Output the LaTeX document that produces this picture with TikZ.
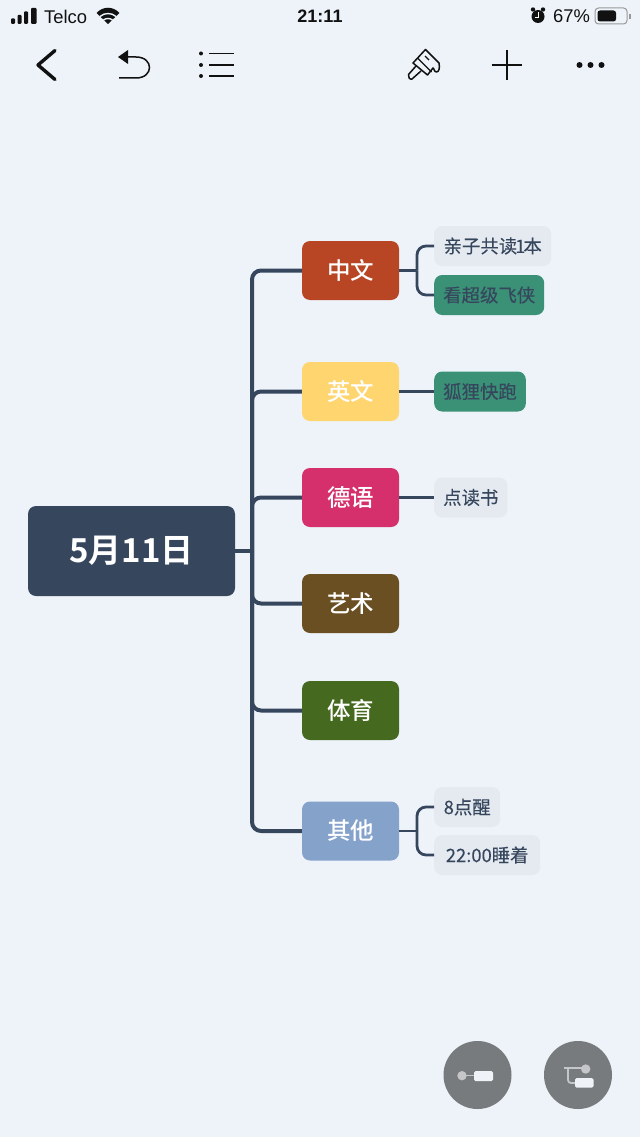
\documentclass[tikz,border=0pt]{standalone}
\usepackage{fontspec}
\setmainfont{Liberation Sans}
\newfontfamily\cjkm{Noto Sans CJK SC}[FakeBold=0.12]
\newfontfamily\cjkb{Noto Sans CJK SC Medium}
\newfontfamily\cjkr{Noto Sans CJK SC Bold}
\definecolor{bg}{HTML}{EDF3F9}
\definecolor{ink}{HTML}{36465D}
\definecolor{cRed}{HTML}{B84523}
\definecolor{cYel}{HTML}{FFD56F}
\definecolor{cPink}{HTML}{D5306C}
\definecolor{cBrown}{HTML}{6A4F22}
\definecolor{cGreen}{HTML}{44691F}
\definecolor{cBlue}{HTML}{85A2CB}
\definecolor{cGrey}{HTML}{E5EAF1}
\definecolor{cTeal}{HTML}{3A9176}
\definecolor{btn}{HTML}{777B7E}
\definecolor{bar}{HTML}{111111}
\definecolor{soft}{HTML}{C4C6C8}
\definecolor{chip}{HTML}{EFF3F8}
\tikzset{
  rootbox/.style={fill=ink,rounded corners=8pt,minimum width=207pt,minimum height=90pt,inner sep=0pt,text=white,font=\cjkr\fontsize{33}{33}\selectfont},
  mainbox/.style={fill=#1,rounded corners=8pt,minimum width=97pt,minimum height=59pt,inner sep=0pt,text=white,font=\cjkb\fontsize{23.5}{24}\selectfont},
  leafbox/.style={fill=#1,rounded corners=8pt,minimum height=40pt,inner sep=0pt,inner xsep=9pt,text=ink,anchor=west,align=left,font=\cjkm\fontsize{18.4}{18.4}\selectfont},
  trunk/.style={draw=ink,line width=4pt,rounded corners=9pt},
  twig/.style={draw=ink,line width=2.8pt,rounded corners=9pt},
  icon/.style={draw=bar,line width=1.5pt},
  statustext/.style={inner sep=0pt,text=bar,font=\fontsize{18.4}{18.4}\selectfont},
}
\begin{document}
\begin{tikzpicture}[x=1pt,y=-1pt]
\path[use as bounding box,fill=bg] (0,0) rectangle (640,1137);

% connectors' junctions
\coordinate (j) at (252,551);
\coordinate (j1) at (417,270.5);
\coordinate (j6) at (417,831);

% nodes
\node[rootbox] (root) at (131.5,551) {\raisebox{-1pt}{5月11日}};
\node[mainbox=cRed] (a) at (350.5,270.5) {中文};
\node[mainbox=cYel] (b) at (350.5,391.5) {英文};
\node[mainbox=cPink] (c) at (350.5,497.5) {德语};
\node[mainbox=cBrown] (d) at (350.5,603.5) {艺术};
\node[mainbox=cGreen] (e) at (350.5,710.5) {体育};
\node[mainbox=cBlue] (f) at (350.5,831) {其他};
\node[leafbox=cGrey,minimum width=117pt] (a1) at (434,246) {亲子共读\kern-2pt 1\kern-2pt 本};
\node[leafbox=cTeal,minimum width=110pt] (a2) at (434,295) {看超级飞侠};
\node[leafbox=cTeal,minimum width=91pt] (b1) at (434,391.5) {狐狸快跑};
\node[leafbox=cGrey,minimum width=73pt] (c1) at (434,497.5) {点读书};
\node[leafbox=cGrey,minimum width=66pt] (f1) at (434,807) {8点醒};
\node[leafbox=cGrey,minimum width=106pt] (f2) at (434,855) {22:00睡着};

% connectors
\draw[trunk] (root.east) -- (j);
\foreach \n in {a,b,c,d,e,f}{\draw[trunk] (j) |- (\n.west);}
\draw[twig] (a.east) -- (j1);
\draw[twig] (j1) |- (a1.west);
\draw[twig] (j1) |- (a2.west);
\draw[twig] (b.east) -- (b1.west);
\draw[twig] (c.east) -- (c1.west);
\draw[twig] (f.east) -- (j6);
\draw[twig] (j6) |- (f1.west);
\draw[twig] (j6) |- (f2.west);

% status bar
\fill[bar,rounded corners=1pt] (11,18.5) rectangle (15,24);
\fill[bar,rounded corners=1pt] (17.5,15) rectangle (21.5,24);
\fill[bar,rounded corners=1pt] (24,11.5) rectangle (28,24);
\fill[bar,rounded corners=1pt] (31,8) rectangle (36.5,24);
\node[statustext,anchor=west] (telco) at (44,16.5) {Telco};
\fill[bar] (108,24) -- (96.5,13) .. controls (103,6) and (113,6) .. (119.5,13) -- cycle;
\draw[bg,line width=1.4pt] (100,16.5) .. controls (104.5,12.5) and (111.5,12.5) .. (116,16.5);
\draw[bg,line width=1.4pt] (103.5,20) .. controls (106,18) and (110,18) .. (112.5,20);
\node[statustext,anchor=center,font=\bfseries\fontsize{18}{18}\selectfont] (clock) at (320,16.5) {21:11};
\fill[bar] (538,16.5) circle (6.5pt);
\fill[bar] (533,9.5) circle (2.2pt) (543,9.5) circle (2.2pt);
\draw[white,line width=.9pt] (538,12.5) -- (538,17) -- (534.5,17);
\node[statustext,anchor=west] (pct) at (553,16.5) {67\%};
\draw[gray!80,line width=1pt,rounded corners=3.5pt] (595,8) rectangle (627,24);
\fill[bar,rounded corners=2.5pt] (597.5,10.5) rectangle (616,21.5);
\fill[gray!80] (629,14) rectangle (631,19);

% toolbar
\draw[icon,line width=3.4pt,line cap=round,line join=round] (55,50.5) -- (38,65) -- (55,79.5);
\fill[bar] (118,57) -- (128,50) -- (128,64) -- cycle;
\draw[icon] (125,57) -- (136,57) .. controls (154,57) and (154,78) .. (136,78) -- (119,78);
\fill[bar] (201,53.5) circle (2pt) (201,65) circle (2pt) (201,76) circle (2pt);
\draw[icon] (209,53.5) -- (233.5,53.5) (209,65) -- (233.5,65) (209,76) -- (233.5,76);
\draw[icon,line join=round] (413,63) -- (425.5,49.5) -- (439,63) .. controls (440,68) and (439,72) .. (436.5,72) .. controls (434,72) and (434,68) .. (433,68) -- (427.5,75) -- cycle;
\draw[icon,line width=1.2pt] (417.5,58) -- (431.5,72) (425,56) -- (429,60);
\draw[icon,line join=round] (416,66) -- (408.5,74.5) .. controls (407.5,77) and (410,80) .. (412,79) -- (421,71);
\draw[icon,line width=1.4pt] (507,50) -- (507,80) (491.5,65) -- (522,65);
\fill[bar] (579.5,65) circle (3pt) (590.5,65) circle (3pt) (601.5,65) circle (3pt);

% floating buttons
\fill[btn] (477.5,1075) circle (34pt);
\fill[btn] (578,1075) circle (34pt);
\draw[soft,line width=1.8pt] (465,1075.5) -- (476,1075.5);
\fill[soft] (462,1075.7) circle (4.7pt);
\fill[chip,rounded corners=1.5pt] (474,1071) rectangle (493,1081);
\draw[soft,line width=1.8pt] (563.5,1068.3) -- (585,1068.3);
\draw[soft,line width=1.8pt,rounded corners=3pt] (568,1068.3) |- (577,1083);
\fill[soft] (585.7,1069) circle (4.7pt);
\fill[chip,rounded corners=1.5pt] (575,1078) rectangle (593.5,1087.5);
\end{tikzpicture}
\end{document}
